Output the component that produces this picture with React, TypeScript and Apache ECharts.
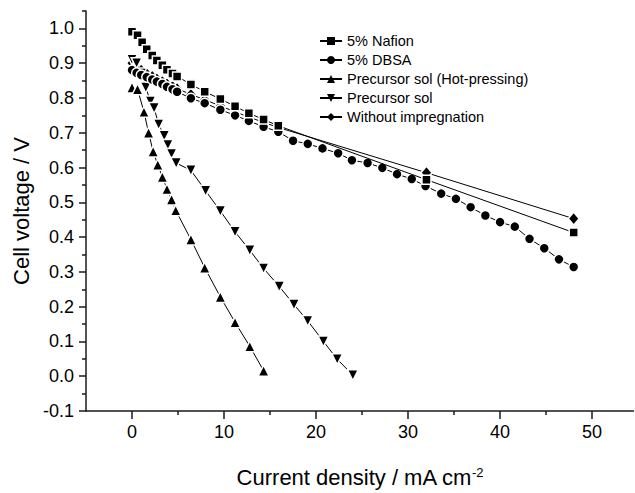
import React, { useEffect, useRef } from "react";
import * as echarts from "echarts";

const seriesNames = [
  "5% Nafion",
  "5% DBSA",
  "Precursor sol (Hot-pressing)",
  "Precursor sol",
  "Without impregnation",
];

const nafionX = [0, 0.6, 1.1, 1.6, 2.2, 2.7, 3.3, 3.8, 4.4, 4.9, 6.4, 7.9, 9.6, 11.2, 12.7, 14.3, 15.9, 32, 48];
const nafionY = [0.99, 0.98, 0.96, 0.94, 0.922, 0.908, 0.894, 0.881, 0.87, 0.862, 0.839, 0.818, 0.797, 0.776, 0.756, 0.738, 0.72, 0.565, 0.413];

const dbsaX = [0, 0.5, 1, 1.6, 2.2, 2.7, 3.3, 3.8, 4.4, 4.9, 6.4, 7.9, 9.6, 11.2, 12.7, 14.3, 15.9, 17.5, 19.1, 20.7, 22.4, 23.9, 25.6, 27.2, 28.8, 30.4, 31.9, 33.6, 35.2, 36.8, 38.4, 40, 41.6, 43.2, 44.8, 46.4, 48];
const dbsaY = [0.88, 0.872, 0.866, 0.86, 0.853, 0.847, 0.84, 0.832, 0.825, 0.818, 0.799, 0.785, 0.766, 0.75, 0.734, 0.717, 0.703, 0.677, 0.668, 0.655, 0.641, 0.621, 0.613, 0.599, 0.581, 0.567, 0.547, 0.525, 0.51, 0.486, 0.462, 0.443, 0.43, 0.395, 0.368, 0.336, 0.314];

const hotX = [0, 0.6, 1.3, 1.8, 2.3, 2.8, 3.3, 3.8, 4.3, 4.75, 6.4, 7.9, 9.6, 11.2, 12.8, 14.3];
const hotY = [0.83, 0.825, 0.76, 0.7, 0.646, 0.608, 0.573, 0.538, 0.508, 0.477, 0.393, 0.312, 0.228, 0.155, 0.086, 0.016];

const solX = [0, 0.5, 1, 1.5, 2, 2.4, 2.9, 3.5, 3.9, 4.3, 4.8, 6.4, 8.0, 9.6, 11.2, 12.8, 14.3, 16, 17.6, 19.1, 20.8, 22.3, 24];
const solY = [0.91, 0.9, 0.87, 0.83, 0.79, 0.771, 0.724, 0.691, 0.665, 0.639, 0.613, 0.592, 0.533, 0.475, 0.415, 0.362, 0.31, 0.258, 0.206, 0.159, 0.1, 0.049, 0.003];

const withoutX = [0, 0.5, 1, 1.6, 2.2, 2.7, 3.3, 3.8, 4.4, 4.9, 6.4, 7.9, 9.6, 11.2, 12.7, 14.3, 15.9, 32, 48];
const withoutY = [0.9, 0.89, 0.88, 0.87, 0.862, 0.855, 0.847, 0.84, 0.833, 0.827, 0.81, 0.795, 0.777, 0.76, 0.745, 0.73, 0.715, 0.585, 0.453];

const xTickValues = [0, 10, 20, 30, 40, 50];
const xMinorValues = [5, 15, 25, 35, 45];
const yTickValues = [-0.1, 0, 0.1, 0.2, 0.3, 0.4, 0.5, 0.6, 0.7, 0.8, 0.9, 1.0];
const yMinorValues = [-0.05, 0.05, 0.15, 0.25, 0.35, 0.45, 0.55, 0.65, 0.75, 0.85, 0.95, 1.05];

const FONT = "'Liberation Sans', Arial, sans-serif";
const AXIS_COLOR = "#1a1a1a";

const zip = (xs: number[], ys: number[]) => xs.map((x, i) => [x, ys[i]]);

const downTriangle = "path://M0,0 L10,0 L5,9 Z";

export default function App() {
  const ref = useRef<HTMLDivElement>(null);
  useEffect(() => {
    if (!ref.current) return;
    const chart = echarts.init(ref.current, undefined, { renderer: "svg" });
    const common = {
      type: "line",
      showSymbol: true,
      lineStyle: { color: "#000", width: 1 },
      itemStyle: { color: "#000", borderColor: "#fff", borderWidth: 1.5 },
      emphasis: { disabled: true },
    };
    const xBase = {
      type: "value",
      min: -5,
      max: 54.5,
      splitLine: { show: false },
    };
    const yBase = {
      type: "value",
      min: -0.1,
      max: 1.05,
      splitLine: { show: false },
    };
    chart.setOption({
      animation: false,
      textStyle: { fontFamily: FONT },
      grid: { left: 86, right: 1.5, top: 11, bottom: 75 },
      legend: {
        orient: "vertical",
        left: 314,
        top: 28,
        itemWidth: 22,
        itemHeight: 10,
        itemGap: 3,
        itemStyle: { borderWidth: 0 },
        textStyle: { fontSize: 14.5, color: "#000", fontFamily: FONT, lineHeight: 16 },
        data: seriesNames,
      },
      xAxis: [
        {
          ...xBase,
          name: "Current density / mA cm{sup|-2}",
          nameLocation: "middle",
          nameGap: 55,
          nameTextStyle: {
            fontSize: 22,
            color: "#000",
            fontFamily: FONT,
            rich: {
              sup: { fontSize: 13, verticalAlign: "top", color: "#000", fontFamily: FONT },
            },
          },
          axisLine: { show: true, onZero: false, lineStyle: { color: AXIS_COLOR, width: 1.5 } },
          axisTick: { show: true, length: 8, customValues: xTickValues, lineStyle: { color: AXIS_COLOR, width: 1.5 } },
          axisLabel: { customValues: xTickValues, fontSize: 18, color: "#000", margin: 12, fontFamily: FONT },
        },
        {
          ...xBase,
          position: "bottom",
          axisLine: { show: false, onZero: false },
          axisTick: { show: true, length: 4, customValues: xMinorValues, lineStyle: { color: AXIS_COLOR, width: 1.5 } },
          axisLabel: { show: false },
        },
      ],
      yAxis: [
        {
          ...yBase,
          name: "Cell voltage / V",
          nameLocation: "middle",
          nameGap: 54,
          nameTextStyle: { fontSize: 22, color: "#000", fontFamily: FONT },
          axisLine: { show: true, onZero: false, lineStyle: { color: AXIS_COLOR, width: 1.5 } },
          axisTick: { show: true, length: 7, customValues: yTickValues, lineStyle: { color: AXIS_COLOR, width: 1.5 } },
          axisLabel: {
            customValues: yTickValues,
            fontSize: 18,
            color: "#000",
            margin: 12,
            fontFamily: FONT,
            formatter: (v: number) => v.toFixed(1),
          },
        },
        {
          ...yBase,
          position: "left",
          axisLine: { show: false, onZero: false },
          axisTick: { show: true, length: 4, customValues: yMinorValues, lineStyle: { color: AXIS_COLOR, width: 1.5 } },
          axisLabel: { show: false },
        },
      ],
      series: [
        { ...common, name: seriesNames[0], symbol: "rect", symbolSize: 9, data: zip(nafionX, nafionY), z: 5 },
        { ...common, name: seriesNames[1], symbol: "circle", symbolSize: 10, data: zip(dbsaX, dbsaY), z: 4 },
        { ...common, name: seriesNames[2], symbol: "triangle", symbolSize: 11, data: zip(hotX, hotY), z: 3 },
        { ...common, name: seriesNames[3], symbol: downTriangle, symbolSize: 11, data: zip(solX, solY), z: 3 },
        { ...common, name: seriesNames[4], symbol: "diamond", symbolSize: [11, 13], data: zip(withoutX, withoutY), z: 2 },
      ],
    });
    return () => chart.dispose();
  }, []);
  return (
    <div
      ref={ref}
      style={{ position: "absolute", left: 0, top: 0, width: 635, height: 493, background: "#fff" }}
    />
  );
}
